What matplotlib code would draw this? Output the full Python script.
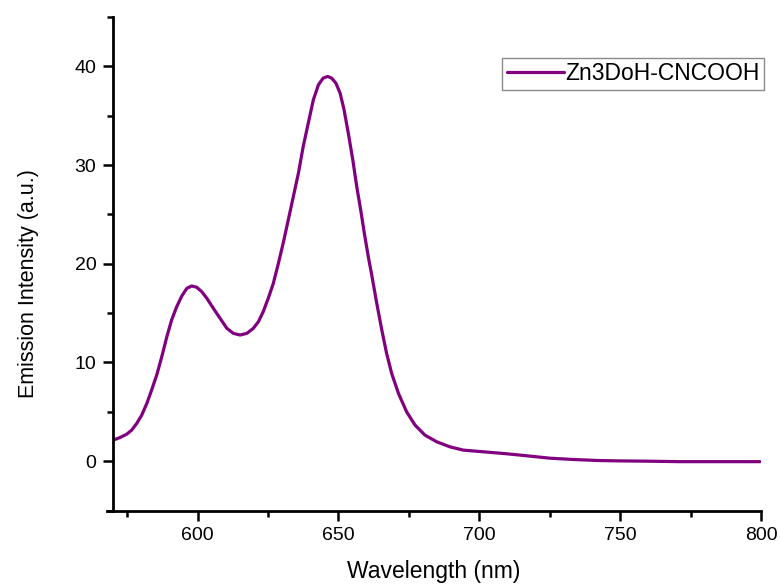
import numpy as np
import matplotlib
matplotlib.use("Agg")
import matplotlib.pyplot as plt
from matplotlib.ticker import MultipleLocator

plt.rcParams['font.family'] = ['Liberation Sans', 'DejaVu Sans']

# emission spectrum
wavelength = [570.1, 572.5, 574.9, 576.6, 578.4, 580.2, 582.0, 583.7, 585.5, 587.3,
              589.1, 590.8, 592.6, 594.4, 596.2, 597.9, 599.7, 601.5, 603.3, 605.6,
              608.0, 610.4, 612.7, 615.1, 617.5, 619.8, 621.6, 623.3, 625.1, 626.9,
              628.7, 630.4, 632.2, 634.0, 635.8, 637.5, 639.3, 641.1, 642.9, 644.6,
              646.2, 647.6, 649.1, 650.6, 652.0, 653.5, 655.1, 656.5, 657.9, 659.2,
              660.6, 661.8, 663.6, 665.4, 667.1, 668.9, 671.3, 674.2, 677.2, 680.7,
              684.9, 689.6, 694.3, 701.4, 709.7, 718.0, 725.1, 733.4, 741.7, 748.8,
              759.4, 771.2, 785.0, 799.6]
intensity = [2.13, 2.40, 2.74, 3.14, 3.82, 4.67, 5.85, 7.20, 8.72, 10.58,
             12.61, 14.30, 15.65, 16.73, 17.51, 17.75, 17.62, 17.17, 16.50, 15.49,
             14.47, 13.46, 12.95, 12.78, 12.95, 13.46, 14.13, 15.14, 16.50, 18.02,
             20.05, 22.10, 24.44, 26.81, 29.18, 31.88, 34.25, 36.61, 38.13, 38.81,
             38.98, 38.81, 38.30, 37.29, 35.60, 33.24, 30.53, 27.82, 25.46, 23.09,
             20.72, 18.90, 16.00, 13.29, 10.92, 8.89, 6.87, 5.00, 3.65, 2.64,
             1.96, 1.45, 1.12, 0.95, 0.75, 0.51, 0.30, 0.17, 0.07, 0.03,
             0.0, -0.05, -0.05, -0.05]
label = 'Zn3DoH-CNCOOH'

fig = plt.figure(figsize=(7.8, 5.87), dpi=100)
ax = fig.add_axes([0.1449, 0.1303, 0.8308, 0.8407])
ax.plot(wavelength, intensity, color='#800080', lw=2.3, label=label,
        solid_joinstyle='round', solid_capstyle='round')

ax.set_xlim(570, 800)
ax.set_ylim(-5, 45)
ax.xaxis.set_major_locator(MultipleLocator(50))
ax.xaxis.set_minor_locator(MultipleLocator(25))
ax.yaxis.set_major_locator(MultipleLocator(10))
ax.yaxis.set_minor_locator(MultipleLocator(5))

for s in ['top', 'right']:
    ax.spines[s].set_visible(False)
for s in ['left', 'bottom']:
    ax.spines[s].set_linewidth(2)
ax.spines['bottom'].set_bounds(567.9, 800)
ax.tick_params(which='major', length=7.5, width=1.8, labelsize=14, pad=4.5)
ax.tick_params(which='minor', length=4, width=1.8)

ax.set_xlabel('Wavelength (nm)', fontsize=16.5, va='top')
ax.xaxis.set_label_coords(0.495, -0.1)
ax.set_ylabel('Emission Intensity (a.u.)', fontsize=15.5)
ax.yaxis.set_label_coords(-0.114, 0.46)

leg = ax.legend(loc='upper left', bbox_to_anchor=(0.644, 0.902),
                bbox_transform=fig.transFigure, fontsize=16.5,
                fancybox=False, framealpha=1, edgecolor='#8a8a8a',
                handlelength=2.5, handletextpad=0.05, borderpad=0.2,
                borderaxespad=0.0)
leg.get_frame().set_linewidth(1.0)

plt.savefig('out.png', dpi=100)
